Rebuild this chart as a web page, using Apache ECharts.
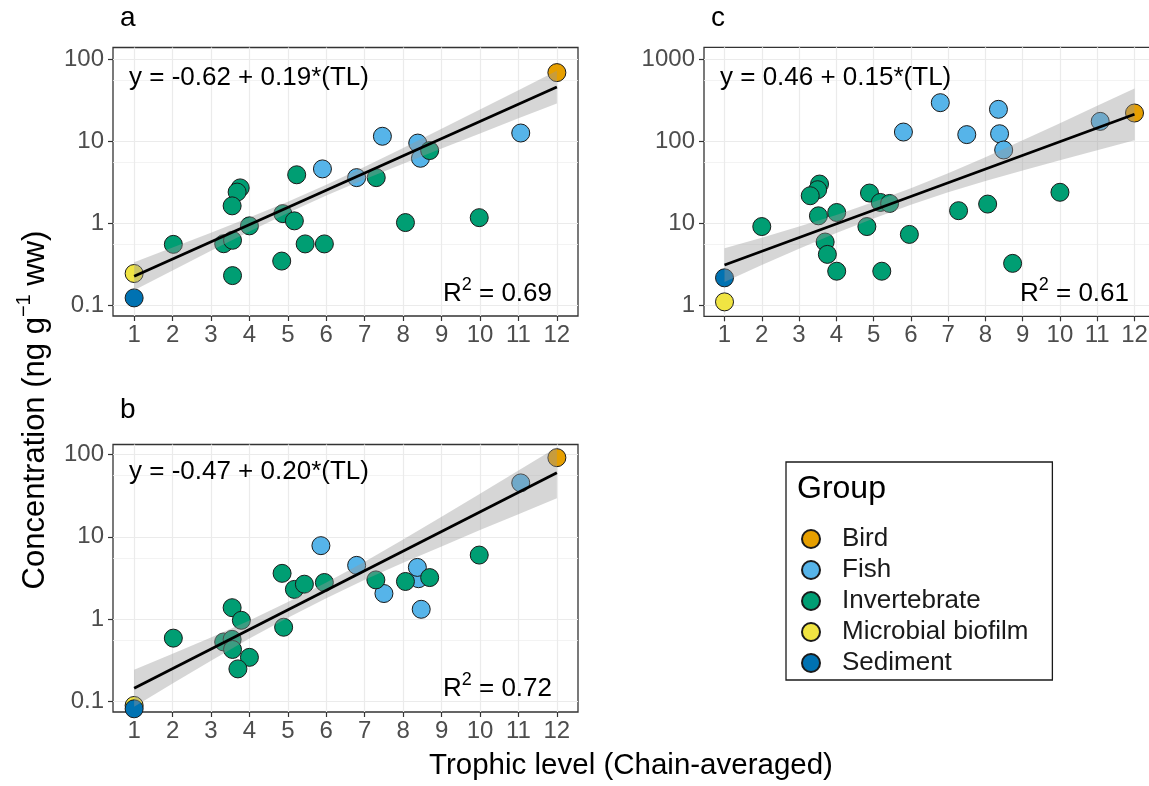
<!DOCTYPE html>
<html>
<head>
<meta charset="utf-8">
<script src="https://cdn.jsdelivr.net/npm/echarts@6/dist/echarts.min.js"></script>
<style>
  html, body { margin: 0; padding: 0; background: #fff; }
  #chart { width: 1149px; height: 786px; }
</style>
</head>
<body>
<div id="chart"></div>
<script>
const groups = ["Bird", "Fish", "Invertebrate", "Microbial biofilm", "Sediment"];
const groupKeys = ["bird", "fish", "inv", "bio", "sed"];
const groupColors = ["#E69F00", "#56B4E9", "#009E73", "#F0E442", "#0072B2"];

// tick labels
const xTicks = [1, 2, 3, 4, 5, 6, 7, 8, 9, 10, 11, 12];
const abYTicks = [0.1, 1, 10, 100];
const cYTicks = [1, 10, 100, 1000];

// panel a
const aTL = [12, 1, 1, 7.46, 11.06, 8.38, 8.45, 5.9, 6.79,
  8.69, 7.3, 5.23, 3.76, 3.68, 3.55, 4.87, 5.17, 4.0, 2.02, 3.33, 3.56, 5.45, 5.95, 4.84, 3.56, 8.06, 9.98];
const aConc = [68.7, 0.244, 0.123, 11.5, 12.6, 9.5, 6.2, 4.6, 3.6,
  7.7, 3.6, 3.9, 2.7, 2.4, 1.63, 1.31, 1.07, 0.93, 0.553, 0.563, 0.62, 0.56, 0.56, 0.346, 0.23, 1.02, 1.17];
const aGroup = ["bird", "bio", "sed", "fish", "fish", "fish", "fish", "fish", "fish",
  "inv", "inv", "inv", "inv", "inv", "inv", "inv", "inv", "inv", "inv", "inv", "inv", "inv", "inv", "inv", "inv", "inv", "inv"];

// panel b
const bTL = [12, 1, 1, 11.06, 5.86, 6.79, 8.4, 8.37, 7.5, 8.47,
  9.98, 4.85, 5.17, 5.43, 5.95, 7.29, 8.06, 8.69, 3.55, 3.79, 4.89, 2.02, 3.33, 3.55, 3.56, 4.0, 3.7];
const bConc = [91, 0.09, 0.082, 45, 7.8, 4.5, 3.1, 4.25, 2.05, 1.32,
  6.0, 3.6, 2.3, 2.66, 2.79, 3.0, 2.87, 3.2, 1.38, 0.97, 0.8, 0.59, 0.53, 0.57, 0.43, 0.345, 0.25];
const bGroup = ["bird", "bio", "sed", "fish", "fish", "fish", "fish", "fish", "fish", "fish",
  "inv", "inv", "inv", "inv", "inv", "inv", "inv", "inv", "inv", "inv", "inv", "inv", "inv", "inv", "inv", "inv", "inv"];

// panel c
const cTL = [12, 1, 1, 6.79, 8.35, 5.8, 7.5, 8.38, 8.49, 11.08,
  3.55, 3.5, 3.3, 4.89, 10.0, 3.52, 4.01, 5.18, 5.43, 8.06, 7.28, 2.0, 4.82, 5.96, 3.7, 3.76, 4.01, 5.22, 8.73];
const cConc = [220, 2.16, 1.1, 294, 244, 129, 120, 123, 78, 174,
  30, 25.6, 21.6, 23.3, 23.8, 12.3, 13.5, 17.9, 17.4, 17.1, 14.2, 9.1, 9.1, 7.3, 5.9, 4.17, 2.6, 2.6, 3.24];
const cGroup = ["bird", "sed", "bio", "fish", "fish", "fish", "fish", "fish", "fish", "fish",
  "inv", "inv", "inv", "inv", "inv", "inv", "inv", "inv", "inv", "inv", "inv", "inv", "inv", "inv", "inv", "inv", "inv", "inv", "inv"];

// fitted line ends and confidence band
const fitTL = [1, 12];
const aFit = [0.2265, 45.81];
const bFit = [0.1455, 59.7];
const cFit = [3.09, 212.3];
const bandTL = [1, 2, 3, 4, 5, 6, 7, 8, 9, 10, 11, 12];
const aLow = [0.153, 0.266, 0.461, 0.792, 1.334, 2.178, 3.451, 5.333, 8.166, 12.47, 19.01, 28.91];
const aHigh = [0.335, 0.507, 0.766, 1.172, 1.824, 2.938, 4.875, 8.26, 14.19, 24.32, 41.98, 72.61];
const bLow = [0.0867, 0.1662, 0.3148, 0.5826, 1.042, 1.801, 3.006, 4.848, 7.638, 12.04, 18.75, 29.24];
const bHigh = [0.2443, 0.3806, 0.5998, 0.9672, 1.614, 2.79, 4.989, 9.238, 17.5, 33.15, 63.53, 121.9];
const cLow = [1.928, 3.105, 4.887, 7.603, 11.43, 16.79, 23.82, 32.66, 43.75, 58.61, 77.62, 102.8];
const cHigh = [4.955, 6.637, 9.099, 12.62, 18.11, 26.61, 40.46, 63.68, 102.6, 165.2, 269.2, 438.5];

const eqTexts = ["y = -0.62 + 0.19*(TL)", "y = -0.47 + 0.20*(TL)", "y = 0.46 + 0.15*(TL)"];
const r2Values = ["0.69", "0.72", "0.61"];
const panelLetters = ["a", "b", "c"];

const font = "Liberation Sans, Arial, sans-serif";
const chart = echarts.init(document.getElementById("chart"));

const panels = [
  { tl: aTL, conc: aConc, grp: aGroup, fit: aFit, low: aLow, high: aHigh, yTicks: abYTicks,
    yMin: 0.074, yMax: 139, box: [113, 47.5, 465, 268.5], letter: [120, 18], eq: [129, 78], r2: [552, 294] },
  { tl: bTL, conc: bConc, grp: bGroup, fit: bFit, low: bLow, high: bHigh, yTicks: abYTicks,
    yMin: 0.075, yMax: 131.5, box: [113, 444.5, 465, 267.5], letter: [120, 410], eq: [129, 472], r2: [552, 689] },
  { tl: cTL, conc: cConc, grp: cGroup, fit: cFit, low: cLow, high: cHigh, yTicks: cYTicks,
    yMin: 0.734, yMax: 1390, box: [704, 47.3, 451, 269], letter: [711, 18], eq: [720, 78], r2: [1129, 294] },
];

const grids = [], xAxes = [], yAxes = [], series = [], graphics = [];

panels.forEach((p, i) => {
  grids.push({
    left: p.box[0], top: p.box[1], width: p.box[2], height: p.box[3],
    outerBoundsMode: "none", containLabel: false,
    show: true, borderColor: "#333", borderWidth: 1.3, backgroundColor: "#fff",
  });
  xAxes.push({
    gridIndex: i, type: "value", min: 0.45, max: 12.55,
    splitNumber: 11, minInterval: 1, maxInterval: 1,
    axisLine: { show: false },
    axisTick: { show: true, length: 5, customValues: xTicks, lineStyle: { color: "#333", width: 1.2 } },
    axisLabel: { color: "#4d4d4d", fontSize: 24, fontFamily: font, margin: 7, customValues: xTicks },
    splitLine: { show: true, lineStyle: { color: "#ebebeb", width: 1.2 } },
  });
  yAxes.push({
    gridIndex: i, type: "log", logBase: 10, min: p.yMin, max: p.yMax,
    axisLine: { show: false },
    axisTick: { show: true, length: 5, customValues: p.yTicks, lineStyle: { color: "#333", width: 1.2 } },
    axisLabel: {
      color: "#4d4d4d", fontSize: 24, fontFamily: font, margin: 9, customValues: p.yTicks,
      formatter: (v) => String(+Number(v).toPrecision(3)),
    },
    splitLine: { show: true, lineStyle: { color: "#ebebeb", width: 1.2 } },
    minorTick: { show: false, splitNumber: 2 },
    minorSplitLine: { show: true, lineStyle: { color: "#f0f0f0", width: 0.8 } },
  });

  groupKeys.forEach((key, gi) => {
    const pts = [];
    p.tl.forEach((x, k) => {
      if (p.grp[k] === key) pts.push([x, p.conc[k]]);
    });
    series.push({
      type: "scatter", name: groups[gi], xAxisIndex: i, yAxisIndex: i, z: 2,
      data: pts, symbolSize: 18,
      itemStyle: { color: groupColors[gi], borderColor: "#1a1a1a", borderWidth: 1, opacity: 1 },
      emphasis: { disabled: true },
    });
  });

  series.push({
    type: "custom", xAxisIndex: i, yAxisIndex: i, z: 3, silent: true,
    data: bandTL.map((x, k) => [x, p.low[k], p.high[k]]),
    encode: { x: 0, y: [1, 2] },
    renderItem: (params, api) => {
      if (params.dataIndex !== 0) return null;
      const upper = bandTL.map((x, k) => api.coord([x, p.high[k]]));
      const lower = bandTL.map((x, k) => api.coord([x, p.low[k]])).reverse();
      return {
        type: "polygon",
        shape: { points: upper.concat(lower) },
        style: { fill: "rgba(153,153,153,0.4)" },
      };
    },
  });

  series.push({
    type: "line", xAxisIndex: i, yAxisIndex: i, z: 4, silent: true,
    data: fitTL.map((x, k) => [x, p.fit[k]]),
    symbol: "none", lineStyle: { color: "#000", width: 2.8 },
  });

  graphics.push({
    type: "text", x: p.letter[0], y: p.letter[1],
    style: { text: panelLetters[i], font: "28px " + font, fill: "#000", align: "left", verticalAlign: "middle" },
  });
  graphics.push({
    type: "text", x: p.eq[0], y: p.eq[1], z: 10,
    style: { text: eqTexts[i], font: "26px " + font, fill: "#000", align: "left", verticalAlign: "middle" },
  });
  graphics.push({
    type: "text", x: p.r2[0], y: p.r2[1], z: 10,
    style: {
      text: "R{sup|2} = " + r2Values[i], font: "26px " + font, fill: "#000",
      align: "right", verticalAlign: "middle", lineHeight: 36,
      rich: { sup: { fontSize: 18, lineHeight: 18, verticalAlign: "top", fontFamily: font } },
    },
  });
});

graphics.push({
  type: "text", x: 631, y: 766,
  style: { text: "Trophic level (Chain-averaged)", font: "29.5px " + font, fill: "#000", align: "center", verticalAlign: "middle" },
});
graphics.push({
  type: "text", x: 35, y: 410, rotation: Math.PI / 2,
  style: {
    text: "Concentration (ng g{sup|−1} ww)", font: "31px " + font, fill: "#000",
    align: "center", verticalAlign: "middle", lineHeight: 42,
    rich: { sup: { fontSize: 20, lineHeight: 20, verticalAlign: "top", fontFamily: font } },
  },
});
graphics.push({
  type: "text", x: 797, y: 489, z: 10,
  style: { text: "Group", font: "32px " + font, fill: "#000", align: "left", verticalAlign: "middle" },
});

chart.setOption({
  animation: false,
  backgroundColor: "#fff",
  grid: grids,
  xAxis: xAxes,
  yAxis: yAxes,
  legend: {
    data: groups, orient: "vertical", left: 786, top: 462,
    padding: [64, 24, 4, 15], itemWidth: 52, itemHeight: 18, itemGap: 5,
    icon: "circle", selectedMode: false,
    borderColor: "#1a1a1a", borderWidth: 1.3, backgroundColor: "#fff",
    textStyle: { fontSize: 26, fontFamily: font, color: "#1a1a1a" },
  },
  graphic: graphics,
  series: series,
});
</script>
</body>
</html>
